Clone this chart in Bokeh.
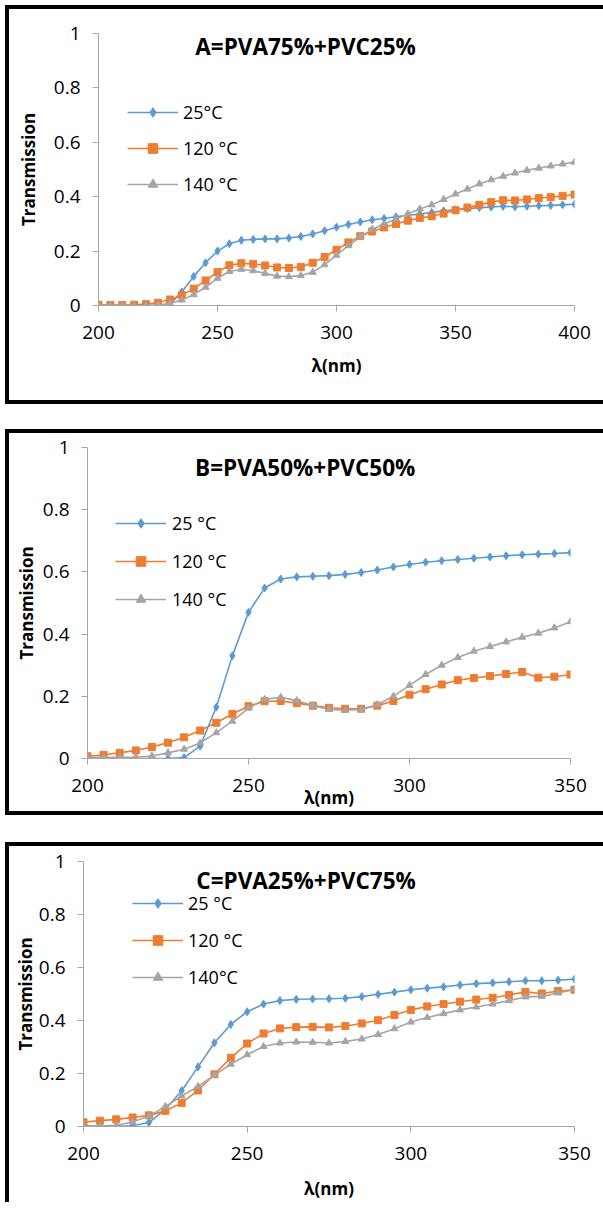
from bokeh.plotting import figure
from bokeh.models import Legend, LegendItem, Label, FixedTicker, NumeralTickFormatter
from bokeh.layouts import column
from bokeh.embed import file_html
from bokeh.resources import INLINE

# ---------------- data ----------------
wavelength_A = [200, 205, 210, 215, 220, 225, 230, 235, 240, 245, 250, 255, 260, 265, 270,
                275, 280, 285, 290, 295, 300, 305, 310, 315, 320, 325, 330, 335, 340, 345,
                350, 355, 360, 365, 370, 375, 380, 385, 390, 395, 400]
t25_A = [0, 0, 0, 0, 0, 0, 0.005, 0.05, 0.107, 0.157, 0.2, 0.227, 0.24, 0.243, 0.245,
         0.245, 0.248, 0.254, 0.263, 0.275, 0.288, 0.298, 0.307, 0.315, 0.32, 0.326, 0.332,
         0.336, 0.342, 0.348, 0.352, 0.356, 0.36, 0.362, 0.365, 0.363, 0.365, 0.367, 0.368,
         0.37, 0.372]
t120_A = [0.003, 0.002, 0.002, 0.003, 0.005, 0.01, 0.022, 0.038, 0.062, 0.092, 0.123, 0.148,
          0.155, 0.153, 0.147, 0.14, 0.138, 0.142, 0.157, 0.178, 0.205, 0.232, 0.255, 0.272,
          0.287, 0.3, 0.312, 0.322, 0.328, 0.338, 0.35, 0.36, 0.37, 0.38, 0.387, 0.386, 0.39,
          0.395, 0.398, 0.403, 0.408]
t140_A = [0, 0, 0, 0, 0, 0.002, 0.008, 0.02, 0.04, 0.067, 0.1, 0.125, 0.133, 0.128, 0.118,
          0.108, 0.106, 0.11, 0.122, 0.15, 0.185, 0.22, 0.252, 0.28, 0.3, 0.318, 0.337, 0.355,
          0.37, 0.39, 0.41, 0.428, 0.447, 0.462, 0.475, 0.487, 0.497, 0.505, 0.513, 0.52, 0.527]

wavelength_BC = [200, 205, 210, 215, 220, 225, 230, 235, 240, 245, 250, 255, 260, 265, 270,
                 275, 280, 285, 290, 295, 300, 305, 310, 315, 320, 325, 330, 335, 340, 345, 350]
t25_B = [0, 0, 0, 0, 0, 0, 0.003, 0.04, 0.165, 0.33, 0.47, 0.548, 0.577, 0.584, 0.586, 0.588,
         0.592, 0.598, 0.606, 0.616, 0.624, 0.631, 0.636, 0.64, 0.644, 0.648, 0.652, 0.655,
         0.657, 0.659, 0.662]
t120_B = [0.007, 0.012, 0.018, 0.026, 0.037, 0.051, 0.068, 0.09, 0.115, 0.143, 0.168, 0.184,
          0.185, 0.178, 0.17, 0.163, 0.16, 0.16, 0.17, 0.185, 0.205, 0.223, 0.238, 0.252,
          0.259, 0.265, 0.272, 0.278, 0.26, 0.263, 0.27]
t140_B = [0.004, 0.004, 0.004, 0.004, 0.008, 0.018, 0.03, 0.05, 0.083, 0.12, 0.162, 0.19,
          0.197, 0.186, 0.17, 0.158, 0.155, 0.158, 0.173, 0.2, 0.235, 0.27, 0.3, 0.325, 0.345,
          0.36, 0.375, 0.39, 0.403, 0.42, 0.44]

t25_C = [0.002, 0.002, 0.002, 0.003, 0.015, 0.065, 0.135, 0.225, 0.316, 0.385, 0.433, 0.462,
         0.475, 0.48, 0.481, 0.482, 0.484, 0.49, 0.499, 0.507, 0.516, 0.522, 0.527, 0.534,
         0.539, 0.542, 0.546, 0.55, 0.55, 0.552, 0.556]
t120_C = [0.016, 0.022, 0.027, 0.034, 0.042, 0.059, 0.089, 0.136, 0.197, 0.259, 0.313, 0.351,
          0.37, 0.375, 0.376, 0.374, 0.379, 0.389, 0.401, 0.421, 0.44, 0.453, 0.462, 0.471,
          0.479, 0.486, 0.496, 0.508, 0.502, 0.511, 0.516]
t140_C = [0.002, 0.002, 0.005, 0.017, 0.04, 0.075, 0.115, 0.151, 0.194, 0.235, 0.271, 0.302,
          0.315, 0.319, 0.318, 0.315, 0.321, 0.33, 0.347, 0.369, 0.394, 0.411, 0.426, 0.44,
          0.451, 0.462, 0.475, 0.489, 0.491, 0.504, 0.517]

titles = ["A=PVA75%+PVC25%", "B=PVA50%+PVC50%", "C=PVA25%+PVC75%"]
legend_A = ["25°C", "120 °C", "140 °C"]
legend_B = ["25 °C", "120 °C", "140 °C"]
legend_C = ["25 °C", "120 °C", "140°C"]
xticks_A = [200, 250, 300, 350, 400]
xticks_BC = [200, 250, 300, 350]
yticks = [0, 0.2, 0.4, 0.6, 0.8, 1]
x_label = "λ(nm)"
y_label = "Transmission"

# ---------------- style ----------------
BLUE = "#5B9BD5"
ORANGE = "#ED7D31"
GRAY = "#A5A5A5"
AXIS = "#A6A6A6"
FONT = "Open Sans"
BORDER = "4px solid #000000"


def make_panel(wl, s25, s120, s140, labels, title, xticks, cfg):
    p = figure(width=cfg["w"], height=cfg["h"],
               x_range=(xticks[0], xticks[-1]), y_range=(0, 1),
               output_backend="svg", toolbar_location=None,
               min_border_left=cfg["ml"], min_border_right=cfg["mr"],
               min_border_top=cfg["mt"], min_border_bottom=cfg["mb"])
    p.outline_line_color = None
    p.xgrid.visible = False
    p.ygrid.visible = False
    p.background_fill_color = "white"
    p.border_fill_color = "white"

    for ax in (p.xaxis[0], p.yaxis[0]):
        ax.axis_line_color = AXIS
        ax.axis_line_width = 1
        ax.major_tick_line_color = AXIS
        ax.major_tick_out = 6
        ax.major_tick_in = 0
        ax.minor_tick_line_color = None
        ax.major_label_text_font = FONT
        ax.major_label_text_font_size = "19px"
        ax.major_label_text_color = "#000000"
        ax.axis_label_text_font = FONT
        ax.axis_label_text_font_size = "17px"
        ax.axis_label_text_font_style = "bold"
        ax.axis_label_text_color = "#000000"

    p.xaxis.ticker = FixedTicker(ticks=xticks)
    p.yaxis.ticker = FixedTicker(ticks=yticks)
    p.yaxis.formatter = NumeralTickFormatter(format="0.[0]")
    p.xaxis.axis_label = x_label
    p.yaxis.axis_label = y_label
    p.xaxis.major_label_standoff = cfg["xls"]
    p.yaxis.major_label_standoff = 12
    p.xaxis.axis_label_standoff = cfg["xas"]
    p.yaxis.axis_label_standoff = cfg["yas"]

    series = [(s25, BLUE, "diamond", 8), (s120, ORANGE, "square", 7), (s140, GRAY, "triangle", 7)]
    items = []
    for (vals, col, mk, sz), lab in zip(series, labels):
        lr = p.line(wl, vals, line_color=col, line_width=1.6)
        sr = p.scatter(wl, vals, marker=mk, size=sz, fill_color=col, line_color=col)
        items.append(LegendItem(label=lab, renderers=[lr, sr]))

    leg = Legend(items=items, location=(cfg["lx"], cfg["ly"]),
                 glyph_width=51, glyph_height=24, label_height=24,
                 label_standoff=cfg["lst"], spacing=cfg["lsp"], padding=0, margin=0,
                 border_line_color=None, background_fill_alpha=0,
                 label_text_font=FONT, label_text_font_size="18px",
                 label_text_color="#000000")
    p.add_layout(leg)

    p.add_layout(Label(x=cfg["tx"], y=cfg["ty"], text=title, text_align="center",
                       text_baseline="middle", text_font=FONT, text_font_size="22.5px",
                       text_font_style="bold", text_color="#000000"))
    return p


cfgA = dict(w=594, h=391, ml=89, mr=29, mt=24, mb=95, xls=14, xas=12, yas=11,
            lx=29, ly=109, lst=5, lsp=12, tx=287, ty=0.954)
cfgB = dict(w=594, h=378, ml=78, mr=33, mt=14, mb=52, xls=14, xas=-9, yas=2,
            lx=28, ly=147, lst=6, lsp=14, tx=267.6, ty=0.936)
cfgC = dict(w=594, h=356, ml=74, mr=29, mt=15, mb=74, xls=14, xas=14, yas=-1,
            lx=49, ly=137, lst=5, lsp=13, tx=268, ty=0.929)

pA = make_panel(wavelength_A, t25_A, t120_A, t140_A, legend_A, titles[0], xticks_A, cfgA)
pB = make_panel(wavelength_BC, t25_B, t120_B, t140_B, legend_B, titles[1], xticks_BC, cfgB)
pC = make_panel(wavelength_BC, t25_C, t120_C, t140_C, legend_C, titles[2], xticks_BC, cfgC)

wrapA = column(pA, styles={"border-left": BORDER, "border-top": BORDER, "border-bottom": BORDER,
                           "border-right": "none"})
wrapB = column(pB, styles={"border-left": BORDER, "border-top": BORDER, "border-bottom": BORDER,
                           "border-right": "none", "margin-top": "25px"})
wrapC = column(pC, styles={"border-left": BORDER, "border-top": BORDER, "border-right": "none",
                           "margin-top": "27px"})

layout = column(wrapA, wrapB, wrapC, styles={"margin-left": "5px", "margin-top": "5px"})

open("out.html", "w").write(file_html(layout, INLINE))
